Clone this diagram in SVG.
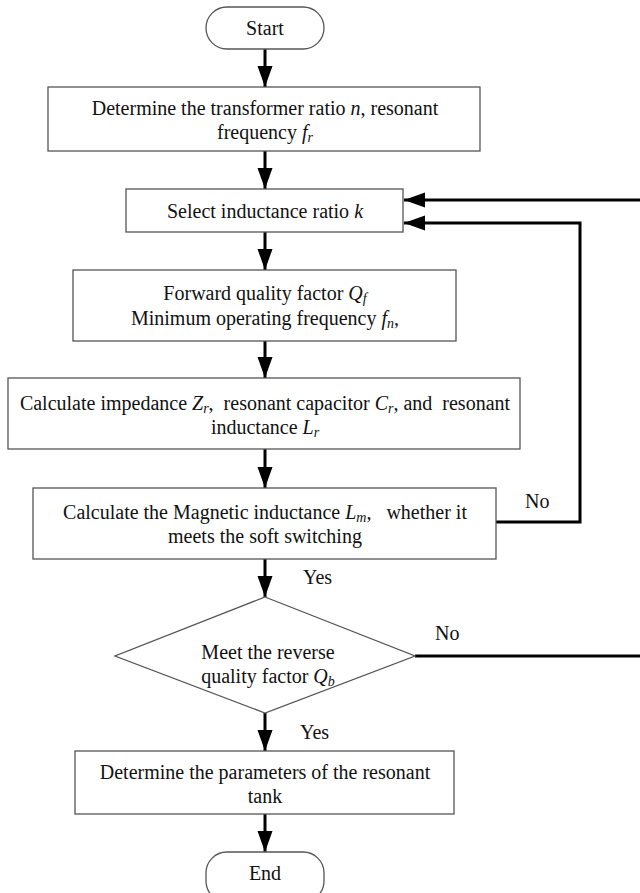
<svg xmlns="http://www.w3.org/2000/svg" width="640" height="893" viewBox="0 0 640 893">
<defs>
<style>
.box{fill:#fff;stroke:#555;stroke-width:1.3}
.t{font-family:"Liberation Serif","Times New Roman",serif;font-size:20px;fill:#111;text-anchor:middle;white-space:pre}
.l{font-family:"Liberation Serif","Times New Roman",serif;font-size:20px;fill:#111}
.i{font-style:italic}
.s{font-style:italic;font-size:14px}
.c{fill:none;stroke:#000;stroke-width:3}
</style>
<marker id="ah" markerUnits="userSpaceOnUse" markerWidth="22" markerHeight="16" refX="21" refY="7.5" orient="auto">
<path d="M0,0 L21,7.5 L0,15 Z" fill="#000"/>
</marker>
</defs>
<rect width="640" height="893" fill="#fff"/>
<g id="connectors">
<line class="c" x1="265" y1="49" x2="265" y2="87" marker-end="url(#ah)"/>
<line class="c" x1="265" y1="151" x2="265" y2="189" marker-end="url(#ah)"/>
<line class="c" x1="265" y1="232" x2="265" y2="270" marker-end="url(#ah)"/>
<line class="c" x1="265" y1="341" x2="265" y2="378" marker-end="url(#ah)"/>
<line class="c" x1="265" y1="449" x2="265" y2="488" marker-end="url(#ah)"/>
<line class="c" x1="265" y1="559" x2="265" y2="597" marker-end="url(#ah)"/>
<line class="c" x1="265" y1="713" x2="265" y2="751" marker-end="url(#ah)"/>
<line class="c" x1="265" y1="814" x2="265" y2="852" marker-end="url(#ah)"/>
<polyline class="c" points="415,656 640,656"/>
<polyline class="c" points="640,200 404,200" marker-end="url(#ah)"/>
<polyline class="c" points="496,522 580,522 580,223 404,223" marker-end="url(#ah)"/>
<text class="l" x="303" y="584">Yes</text>
<text class="l" x="435" y="640">No</text>
<text class="l" x="300" y="739">Yes</text>
<text class="l" x="525" y="508">No</text>
</g>
<g id="start">
<rect class="box" x="206" y="7" width="118" height="42" rx="21"/>
<text class="t" x="265" y="35">Start</text>
</g>
<g id="box1">
<rect class="box" x="48" y="87" width="432" height="64"/>
<text class="t" x="265" y="115">Determine the transformer ratio <tspan class="i">n</tspan>, resonant</text>
<text class="t" x="265" y="139">frequency <tspan class="i">f</tspan><tspan class="s" dy="3">r</tspan></text>
</g>
<g id="box2">
<rect class="box" x="126" y="189" width="277" height="43"/>
<text class="t" x="265" y="218">Select inductance ratio <tspan class="i">k</tspan></text>
</g>
<g id="box3">
<rect class="box" x="73" y="270" width="383" height="71"/>
<text class="t" x="265" y="300">Forward quality factor <tspan class="i">Q</tspan><tspan class="s" dy="3">f</tspan></text>
<text class="t" x="265" y="325">Minimum operating frequency <tspan class="i">f</tspan><tspan class="s" dy="3">n</tspan><tspan dy="-3">,</tspan></text>
</g>
<g id="box4">
<rect class="box" x="8" y="378" width="512" height="71"/>
<text class="t" x="265" y="410">Calculate impedance <tspan class="i">Z</tspan><tspan class="s" dy="3">r</tspan><tspan dy="-3">,  resonant capacitor </tspan><tspan class="i">C</tspan><tspan class="s" dy="3">r</tspan><tspan dy="-3">, and  resonant</tspan></text>
<text class="t" x="265" y="434">inductance <tspan class="i">L</tspan><tspan class="s" dy="3">r</tspan></text>
</g>
<g id="box5">
<rect class="box" x="33" y="488" width="463" height="71"/>
<text class="t" x="265" y="519">Calculate the Magnetic inductance <tspan class="i">L</tspan><tspan class="s" dy="3">m</tspan><tspan dy="-3">,   whether it</tspan></text>
<text class="t" x="265" y="543">meets the soft switching</text>
</g>
<g id="decision">
<polygon class="box" points="265,597 415,656 265,713 115,656"/>
<text class="t" x="268" y="659">Meet the reverse</text>
<text class="t" x="268" y="683">quality factor <tspan class="i">Q</tspan><tspan class="s" dy="3">b</tspan></text>
</g>
<g id="box6">
<rect class="box" x="75" y="751" width="379" height="63"/>
<text class="t" x="265" y="779">Determine the parameters of the resonant</text>
<text class="t" x="265" y="803">tank</text>
</g>
<g id="end">
<rect class="box" x="206" y="852" width="118" height="50" rx="21"/>
<text class="t" x="265" y="880">End</text>
</g>
</svg>
